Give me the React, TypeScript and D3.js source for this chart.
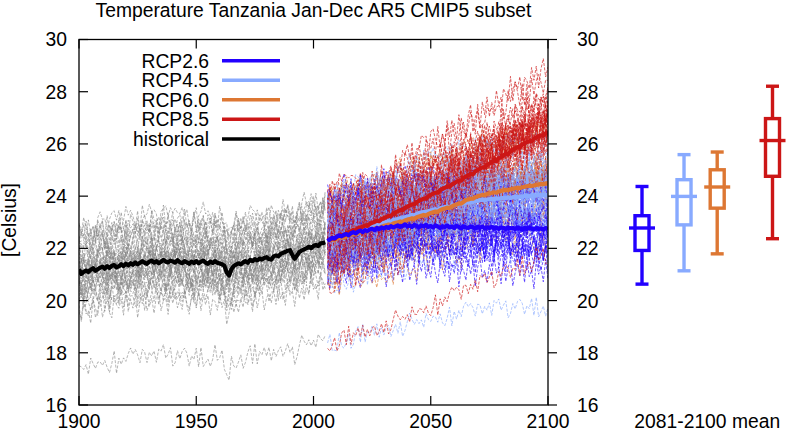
import React from "react";
import * as d3 from "d3";

// ---------------- DATA ----------------
const TITLE = "Temperature Tanzania Jan-Dec AR5 CMIP5 subset";
const Y_LABEL = "[Celsius]";
const BOX_LABEL = "2081-2100 mean";
const X_TICKS = [1900, 1950, 2000, 2050, 2100];
const Y_TICKS = [16, 18, 20, 22, 24, 26, 28, 30];

const HIST_START = 1900;
// multi-model mean, historical (1900-2005)
const HIST_MEAN = [
  21.2, 21.02, 21.1, 21.15, 21.1, 21.18, 21.24, 21.14, 21.2, 21.26,
  21.3, 21.22, 21.32, 21.25, 21.33, 21.36, 21.27, 21.31, 21.39, 21.32,
  21.41, 21.35, 21.43, 21.37, 21.46, 21.39, 21.45, 21.51, 21.45, 21.41,
  21.49, 21.53, 21.45, 21.51, 21.43, 21.49, 21.56, 21.49, 21.46, 21.53,
  21.5, 21.45, 21.55, 21.47, 21.43, 21.51, 21.46, 21.41, 21.49, 21.44,
  21.51, 21.43, 21.49, 21.53, 21.45, 21.41, 21.49, 21.44, 21.51, 21.45,
  21.42, 21.39, 21.33, 21.08, 20.96, 21.2, 21.32, 21.38, 21.43, 21.39,
  21.46, 21.51, 21.45, 21.56, 21.51, 21.59, 21.54, 21.61, 21.57, 21.63,
  21.66, 21.59, 21.57, 21.69, 21.73, 21.69, 21.79, 21.83, 21.86, 21.91,
  21.93, 21.74, 21.6, 21.73, 21.86, 21.92, 21.96, 22.0, 22.06, 22.01,
  22.09, 22.13, 22.09, 22.19, 22.2, 22.23,
];

const FUT_START = 2006;
const RCP26_MEAN = [
  22.28, 22.35, 22.4, 22.38, 22.45, 22.5, 22.46, 22.52, 22.55, 22.5,
  22.58, 22.62, 22.57, 22.64, 22.68, 22.62, 22.7, 22.66, 22.72, 22.75,
  22.7, 22.78, 22.74, 22.8, 22.76, 22.82, 22.78, 22.85, 22.8, 22.84,
  22.88, 22.82, 22.86, 22.92, 22.84, 22.88, 22.82, 22.9, 22.86, 22.8,
  22.88, 22.84, 22.9, 22.82, 22.86, 22.8, 22.88, 22.84, 22.78, 22.85,
  22.82, 22.88, 22.8, 22.84, 22.78, 22.86, 22.82, 22.76, 22.84, 22.8,
  22.78, 22.84, 22.8, 22.76, 22.82, 22.78, 22.84, 22.76, 22.8, 22.78,
  22.82, 22.76, 22.8, 22.74, 22.8, 22.78, 22.74, 22.8, 22.76, 22.78,
  22.74, 22.8, 22.76, 22.72, 22.78, 22.74, 22.8, 22.76, 22.72, 22.78,
  22.74, 22.76, 22.72, 22.78, 22.74,
];
const RCP45_MEAN = [
  22.28, 22.3, 22.36, 22.33, 22.4, 22.44, 22.41, 22.48, 22.52, 22.55,
  22.58, 22.55, 22.62, 22.66, 22.7, 22.72, 22.76, 22.74, 22.8, 22.85,
  22.86, 22.9, 22.88, 22.94, 22.98, 23.0, 23.04, 23.02, 23.08, 23.1,
  23.12, 23.16, 23.14, 23.19, 23.22, 23.24, 23.28, 23.26, 23.32, 23.35,
  23.36, 23.4, 23.38, 23.43, 23.45, 23.48, 23.5, 23.47, 23.53, 23.55,
  23.58, 23.6, 23.57, 23.63, 23.65, 23.67, 23.7, 23.68, 23.73, 23.75,
  23.76, 23.79, 23.77, 23.81, 23.82, 23.84, 23.86, 23.83, 23.87, 23.88,
  23.9, 23.88, 23.92, 23.9, 23.92, 23.94, 23.92, 23.95, 23.93, 23.96,
  23.98, 23.95, 23.99, 23.97, 24.0, 24.02, 23.99, 24.03, 24.01, 24.03,
  24.05, 24.02, 24.06, 24.03, 24.05,
];
const RCP60_MEAN = [
  22.28, 22.31, 22.34, 22.32, 22.38, 22.4, 22.43, 22.41, 22.47, 22.5,
  22.52, 22.55, 22.53, 22.59, 22.62, 22.64, 22.67, 22.65, 22.71, 22.74,
  22.76, 22.79, 22.77, 22.83, 22.86, 22.88, 22.91, 22.89, 22.95, 22.98,
  23.0, 23.03, 23.01, 23.07, 23.1, 23.12, 23.15, 23.13, 23.19, 23.22,
  23.25, 23.28, 23.26, 23.32, 23.35, 23.38, 23.41, 23.4, 23.46, 23.5,
  23.53, 23.56, 23.55, 23.61, 23.65, 23.68, 23.72, 23.71, 23.78, 23.85,
  23.87, 23.91, 23.9, 23.96, 24.0, 24.02, 24.05, 24.04, 24.08, 24.1,
  24.12, 24.15, 24.13, 24.18, 24.2, 24.22, 24.24, 24.23, 24.26, 24.28,
  24.3, 24.32, 24.31, 24.34, 24.36, 24.38, 24.4, 24.39, 24.41, 24.43,
  24.45, 24.47, 24.46, 24.48, 24.5,
];
const RCP85_MEAN = [
  22.3, 22.34, 22.38, 22.36, 22.45, 22.48, 22.52, 22.5, 22.58, 22.62,
  22.65, 22.7, 22.68, 22.76, 22.8, 22.83, 22.88, 22.86, 22.94, 22.98,
  23.01, 23.06, 23.04, 23.12, 23.15, 23.2, 23.25, 23.24, 23.32, 23.38,
  23.42, 23.47, 23.46, 23.55, 23.6, 23.64, 23.69, 23.68, 23.77, 23.82,
  23.86, 23.91, 23.9, 24.0, 24.05, 24.09, 24.14, 24.13, 24.23, 24.28,
  24.32, 24.37, 24.36, 24.45, 24.5, 24.55, 24.6, 24.59, 24.7, 24.75,
  24.8, 24.85, 24.84, 24.95, 25.0, 25.05, 25.1, 25.09, 25.2, 25.25,
  25.3, 25.35, 25.34, 25.45, 25.5, 25.56, 25.62, 25.61, 25.72, 25.78,
  25.83, 25.88, 25.87, 25.97, 26.02, 26.07, 26.11, 26.1, 26.2, 26.25,
  26.29, 26.33, 26.32, 26.41, 26.45,
];

// individual model members: bias relative to the mean, warming sensitivity
const MODEL_OFFSETS = [
  -1.55, 1.7, -0.35, 0.42, -1.1, 0.95, -0.05, 0.2, -0.7, 1.25,
  -0.28, 0.58, -1.3, 0.1, -0.5, 1.4, -0.12, 0.75, -0.95, 0.28,
  -0.6, 1.05, 0.0, 0.35, -0.8, 1.55, -0.2, 0.66, -0.42, 0.15,
  -0.85, 0.5, 1.15, 0.05,
];
const MODEL_SENS = [
  0.75, 1.1, 1.3, 0.9, 1.0, 0.8, 1.2, 1.05, 1.4, 0.7,
  1.15, 0.95, 1.45, 1.0, 0.85, 1.25, 0.65, 1.1, 1.35, 0.9,
  1.05, 0.75, 1.2, 0.95, 1.3, 0.8, 1.0, 1.15, 0.7, 1.25,
  1.1, 0.9, 1.0, 0.85,
];
// one cold-biased model
const OUTLIER_HIST_OFFSET = -3.65;
const OUTLIER_FUT_OFFSET = -3.95;
const OUTLIER_FUT_SENS = 0.82;
// year-to-year variability read as typical zig-zag (normalised)
const WIGGLE = [
  0.3, -0.5, 0.8, -0.2, 0.1, -0.9, 0.6, 0.2, -0.4, 0.9,
  -0.7, 0.0, 0.5, -0.3, -0.8, 0.7, 0.2, -0.1, 0.4, -0.6,
  1.0, -0.4, 0.3, -0.2, 0.6, -0.9, 0.1, 0.5, -0.5, 0.8,
  -0.3, 0.2, -0.7, 0.4, 0.9, -0.6, 0.0, 0.3, -0.8, 0.6,
  -0.1, 0.7, -0.5, 0.2, -0.4, 0.8, -0.2, -0.7, 0.5, 0.1,
  -0.3, 0.9, -0.6, 0.4, -0.1, 0.6, -0.9, 0.3, 0.0, -0.5,
  0.7, -0.2, 0.5, -0.8, 0.2, 0.8, -0.4, 0.1, -0.6, 0.4,
  -0.3, 0.9, -0.1, 0.3, -0.7, 0.6, -0.5, 0.2, 0.7, -0.8,
  0.0, 0.4, -0.2, 0.5, -0.6, 0.8, -0.3, 0.1, -0.9, 0.6,
  -0.1, 0.3, -0.5, 0.7, -0.4, 0.2, -0.7,
];

const SCENARIOS = ["RCP2.6", "RCP4.5", "RCP6.0", "RCP8.5"];
const FORCING = [2.6, 4.5, 6.0, 8.5];
const MEMBER_COUNT = [26, 34, 16, 34];
const HAS_OUTLIER = [false, true, false, true];
// 2081-2100 mean box plots
const BOX_MIN = [20.63, 21.14, 21.79, 22.37];
const BOX_Q1 = [21.92, 22.9, 23.54, 24.76];
const BOX_MED = [22.78, 23.99, 24.35, 26.13];
const BOX_Q3 = [23.25, 24.63, 25.01, 26.97];
const BOX_MAX = [24.37, 25.59, 25.69, 28.21];

// ---------------- STYLE ----------------
const COLORS = ["#2200ff", "#88aaff", "#dd7733", "#cc1616"];
const FONT = "'Liberation Sans', Arial, Helvetica, sans-serif";
const FS = 19.3;

const W = 787;
const H = 434;
const PL = 79;
const PR = 548;
const PT = 39.5;
const PB = 405;

export default function App() {
  const x = d3.scaleLinear().domain([1900, 2100]).range([PL, PR]);
  const y = d3.scaleLinear().domain([16, 30]).range([PB, PT]);
  const bx = d3.scaleLinear().domain([2.6, 8.5]).range([642, 772.5]);

  const line = d3
    .line<{ yr: number; v: number }>()
    .x((d) => x(d.yr))
    .y((d) => y(d.v));

  const futMeans = [RCP26_MEAN, RCP45_MEAN, RCP60_MEAN, RCP85_MEAN];
  const WL = WIGGLE.length;

  const member = (
    mean: number[],
    start: number,
    base: number | null,
    off: number,
    sens: number,
    step: number,
    lag: number,
    amp: number
  ) =>
    mean.map((v, i) => {
      const b = base === null ? v : base + (v - base) * sens;
      return { yr: start + i, v: b + off + WIGGLE[(i * step + lag) % WL] * amp };
    });

  // historical members
  const histPaths: string[] = [];
  MODEL_OFFSETS.forEach((off, m) => {
    const step = [1, 2, 3, 5, 7][m % 5];
    histPaths.push(line(member(HIST_MEAN, HIST_START, null, off, 1, step, m * 11, 0.55)) || "");
  });
  histPaths.push(line(member(HIST_MEAN, HIST_START, null, OUTLIER_HIST_OFFSET, 1, 3, 40, 0.45)) || "");

  // future members, interleaved by model
  const futPaths: { d: string; c: string }[] = [];
  const maxN = Math.max(...MEMBER_COUNT);
  for (let m = 0; m < maxN; m++) {
    SCENARIOS.forEach((_, s) => {
      if (m >= MEMBER_COUNT[s]) return;
      const mean = futMeans[s];
      const step = [1, 3, 2, 5, 7, 4][(m + s) % 6];
      const d = line(member(mean, FUT_START, mean[0], MODEL_OFFSETS[m], MODEL_SENS[m], step, m * 13 + s * 23, 0.68)) || "";
      futPaths.push({ d, c: COLORS[s] });
    });
  }
  SCENARIOS.forEach((_, s) => {
    if (!HAS_OUTLIER[s]) return;
    const mean = futMeans[s];
    const d = line(member(mean, FUT_START, mean[0], OUTLIER_FUT_OFFSET, OUTLIER_FUT_SENS, 3, 17 + s * 9, 0.45)) || "";
    futPaths.push({ d, c: COLORS[s] });
  });

  const toPts = (arr: number[], start: number) => arr.map((v, i) => ({ yr: start + i, v }));
  const drawOrder = [1, 2, 3, 0];

  const legendY = [60.7, 80.2, 99.7, 119.3, 139];
  const legendItems = [...SCENARIOS.map((s, i) => ({ label: s, c: COLORS[i] })), { label: "historical", c: "#000" }];

  const tickLen = 9;

  return (
    <svg width={W} height={H} style={{ position: "absolute", left: 0, top: 0, background: "#fff" }} fontFamily={FONT}>
      <rect x={0} y={0} width={W} height={H} fill="#fff" />
      <defs>
        <clipPath id="plotclip">
          <rect x={PL} y={PT} width={PR - PL} height={PB - PT} />
        </clipPath>
      </defs>
      <text x={(PL + PR) / 2} y={16.8} textAnchor="middle" fontSize={FS}>
        {TITLE}
      </text>

      <g clipPath="url(#plotclip)" fill="none">
        {histPaths.map((d, i) => (
          <path key={"h" + i} d={d} stroke="#858585" strokeWidth={0.6} strokeDasharray="3,1.5" />
        ))}
        {futPaths.map((p, i) => (
          <path key={"f" + i} d={p.d} stroke={p.c} strokeWidth={0.65} strokeDasharray="3,1.5" />
        ))}
        <path d={line(toPts(HIST_MEAN, HIST_START)) || ""} stroke="#000" strokeWidth={4.2} strokeLinejoin="round" />
        {drawOrder.map((s) => (
          <path
            key={"m" + s}
            d={line(toPts(futMeans[s], FUT_START)) || ""}
            stroke={COLORS[s]}
            strokeWidth={4.2}
            strokeLinejoin="round"
          />
        ))}
      </g>

      {/* frame */}
      <rect x={PL} y={PT} width={PR - PL} height={PB - PT} fill="none" stroke="#000" strokeWidth={1.3} />

      {/* x ticks */}
      {X_TICKS.map((t) => (
        <g key={"x" + t}>
          <line x1={x(t)} x2={x(t)} y1={PB} y2={PB - tickLen} stroke="#000" strokeWidth={1.2} />
          <line x1={x(t)} x2={x(t)} y1={PT} y2={PT + tickLen} stroke="#000" strokeWidth={1.2} />
          <text x={x(t)} y={428} textAnchor="middle" fontSize={FS}>
            {t}
          </text>
        </g>
      ))}
      {/* y ticks */}
      {Y_TICKS.map((t) => (
        <g key={"y" + t}>
          <line x1={PL} x2={PL + tickLen} y1={y(t)} y2={y(t)} stroke="#000" strokeWidth={1.2} />
          <line x1={PR} x2={PR + tickLen} y1={y(t)} y2={y(t)} stroke="#000" strokeWidth={1.2} />
          <text x={67} y={y(t)} dy="0.36em" textAnchor="end" fontSize={FS}>
            {t}
          </text>
          <text x={577} y={y(t)} dy="0.36em" textAnchor="start" fontSize={FS}>
            {t}
          </text>
        </g>
      ))}
      <text transform={`translate(16,220) rotate(-90)`} textAnchor="middle" fontSize={FS}>
        {Y_LABEL}
      </text>

      {/* legend */}
      {legendItems.map((it, i) => (
        <g key={"l" + i}>
          <text x={209} y={legendY[i]} dy="0.36em" textAnchor="end" fontSize={FS}>
            {it.label}
          </text>
          <line x1={222} x2={280} y1={legendY[i]} y2={legendY[i]} stroke={it.c} strokeWidth={3.6} />
        </g>
      ))}

      {/* box plots */}
      {FORCING.map((f, i) => {
        const cx = bx(f);
        const bw = 14;
        const cw = 13;
        const mw = 26;
        return (
          <g key={"b" + i} stroke={COLORS[i]} strokeWidth={3.4} fill="none">
            <line x1={cx} x2={cx} y1={y(BOX_MAX[i])} y2={y(BOX_Q3[i])} />
            <line x1={cx} x2={cx} y1={y(BOX_Q1[i])} y2={y(BOX_MIN[i])} />
            <line x1={cx - cw / 2} x2={cx + cw / 2} y1={y(BOX_MAX[i])} y2={y(BOX_MAX[i])} />
            <line x1={cx - cw / 2} x2={cx + cw / 2} y1={y(BOX_MIN[i])} y2={y(BOX_MIN[i])} />
            <rect x={cx - bw / 2} y={y(BOX_Q3[i])} width={bw} height={y(BOX_Q1[i]) - y(BOX_Q3[i])} />
            <line x1={cx - mw / 2} x2={cx + mw / 2} y1={y(BOX_MED[i])} y2={y(BOX_MED[i])} />
          </g>
        );
      })}
      <text x={(bx(2.6) + bx(8.5)) / 2} y={428} textAnchor="middle" fontSize={FS}>
        {BOX_LABEL}
      </text>
    </svg>
  );
}
